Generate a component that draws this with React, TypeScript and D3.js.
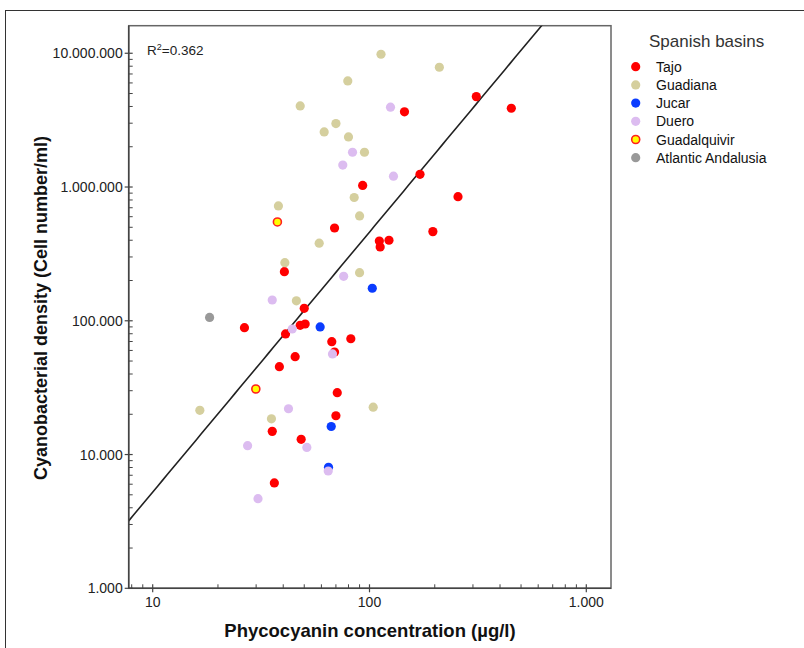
import React from "react";
import * as d3 from "d3";

const basins = ["Tajo", "Guadiana", "Jucar", "Duero", "Guadalquivir", "Atlantic Andalusia"];
const basinFill = ["#ff0000", "#d5cf9e", "#0a3cff", "#dcbcf0", "#ffff00", "#999999"];
const basinStroke = ["none", "none", "none", "none", "#ff2020", "none"];

// [phycocyanin µg/l, cells/ml]
const tajo: [number, number][] = [
  [311, 4740000], [451, 3880000], [145, 3650000], [171, 1245000], [93, 1027000],
  [256, 847000], [69, 494000], [196, 464000], [111, 395000], [123, 400000],
  [112, 356000], [40.5, 233000], [50, 124000], [26.5, 88800], [47.9, 92500],
  [50.5, 94600], [41, 79700], [67, 69800], [82, 73400], [69, 58400],
  [45.4, 53900], [38.4, 45400], [71, 29000], [70, 19500], [35.6, 14900],
  [48.4, 13000], [36.4, 6130],
];
const guadiana: [number, number][] = [
  [113, 9830000], [210, 7860000], [79.4, 6210000], [47.9, 4040000], [70, 2980000],
  [61.8, 2580000], [80, 2370000], [94.8, 1820000], [85, 835000], [38, 722000],
  [90, 608000], [58.6, 380000], [40.7, 272000], [90, 229000], [46, 141000],
  [16.5, 21400], [104, 22600], [35.3, 18500],
];
const jucar: [number, number][] = [
  [103, 175000], [59.2, 89900], [66.6, 16200], [64.7, 8030],
];
const duero: [number, number][] = [
  [125, 3950000], [83.5, 1820000], [75.3, 1460000], [129, 1205000], [76, 215000],
  [35.6, 143000], [44, 86800], [67.5, 56500], [42.3, 22000], [27.4, 11650],
  [51.4, 11300], [64.5, 7530], [30.6, 4680],
];
const guadalquivir: [number, number][] = [[37.6, 548000], [29.9, 30900]];
const atlantic: [number, number][] = [[18.3, 106000]];
const seriesData = [tajo, guadiana, jucar, duero, guadalquivir, atlantic];

const xTickValues = [10, 100, 1000];
const yTickValues = [1000, 10000, 100000, 1000000, 10000000];
const regIntercept = 59.6;
const regSlope = 1.944;
const r2Label = "0.362";

const L = 128.7, R = 611, T = 25.7, B = 588.3;

const fmt = (v: number) => d3.format(",")(v).replace(/,/g, ".");

export default function App() {
  const x = d3.scaleLog().domain([7.75, 1300]).range([L, R]);
  const y = d3.scaleLog().domain([1000, Math.pow(10, 7.206)]).range([B, T]);

  const xMinor: number[] = [];
  for (let d = 1; d <= 1000; d *= 10)
    for (let k = 2; k <= 9; k++) {
      const v = d * k;
      if (v > 7.75 && v < 1300) xMinor.push(v);
    }
  const yMinor: number[] = [];
  for (let d = 1000; d <= 1e7; d *= 10)
    for (let k = 2; k <= 9; k++) {
      const v = d * k;
      if (v < Math.pow(10, 7.206)) yMinor.push(v);
    }

  const regX = d3.range(0, 101).map((i) => 7.75 * Math.pow(1300 / 7.75, i / 100));
  const line = d3
    .line<number>()
    .x((v) => x(v))
    .y((v) => y(regIntercept * Math.pow(v, regSlope)));

  const font = "'Liberation Sans', Arial, sans-serif";

  return (
    <svg
      width={804}
      height={648}
      style={{ position: "absolute", left: 0, top: 0, background: "#fff" }}
      fontFamily={font}
    >
      <defs>
        <clipPath id="plotclip">
          <rect x={L} y={T} width={R - L} height={B - T} />
        </clipPath>
      </defs>
      <rect x={5.5} y={10.5} width={830} height={700} fill="#fff" stroke="#333" strokeWidth={1} />

      {/* plot box */}
      <rect x={L} y={T} width={R - L} height={B - T} fill="#fff" stroke="#666" strokeWidth={1.5} />

      {/* regression line */}
      <path d={line(regX) || ""} fill="none" stroke="#222" strokeWidth={1.6} clipPath="url(#plotclip)" />

      {/* points */}
      <g clipPath="url(#plotclip)">
        {seriesData.map((arr, si) =>
          arr.map((p, i) => (
            <circle
              key={si + "-" + i}
              cx={x(p[0])}
              cy={y(p[1])}
              r={si === 4 ? 4 : 4.6}
              fill={basinFill[si]}
              stroke={basinStroke[si]}
              strokeWidth={si === 4 ? 1.6 : 0}
            />
          ))
        )}
      </g>

      {/* axes lines */}
      <line x1={L} x2={L} y1={T} y2={B} stroke="#444" strokeWidth={1.5} />
      <line x1={L} x2={R} y1={B} y2={B} stroke="#444" strokeWidth={1.5} />

      {/* y ticks */}
      {yMinor.map((v, i) => (
        <line key={"ym" + i} x1={L} x2={L + 4} y1={y(v)} y2={y(v)} stroke="#444" strokeWidth={1} />
      ))}
      {yTickValues.map((v) => (
        <g key={"yt" + v}>
          <line x1={L - 4} x2={L + 4} y1={y(v)} y2={y(v)} stroke="#444" strokeWidth={1.2} />
          <text x={L - 6} y={y(v)} dy="0.36em" textAnchor="end" fontSize={14} fill="#222">
            {fmt(v)}
          </text>
        </g>
      ))}

      {/* x ticks */}
      {xMinor.map((v, i) => (
        <line key={"xm" + i} x1={x(v)} x2={x(v)} y1={B} y2={B - 4} stroke="#444" strokeWidth={1} />
      ))}
      {xTickValues.map((v) => (
        <g key={"xt" + v}>
          <line x1={x(v)} x2={x(v)} y1={B - 4} y2={B + 4} stroke="#444" strokeWidth={1.2} />
          <text x={x(v)} y={B + 19} textAnchor="middle" fontSize={14} fill="#222">
            {fmt(v)}
          </text>
        </g>
      ))}

      {/* R2 label */}
      <text x={147} y={55} fontSize={13.5} fill="#222">
        R<tspan dy={-5} fontSize={9}>2</tspan>
        <tspan dy={5}>={r2Label}</tspan>
      </text>

      {/* axis titles */}
      <text x={370} y={637} textAnchor="middle" fontSize={18.5} fontWeight="bold" fill="#111">
        Phycocyanin concentration (µg/l)
      </text>
      <text
        transform={`translate(47,308) rotate(-90)`}
        textAnchor="middle"
        fontSize={18}
        fontWeight="bold"
        fill="#111"
      >
        Cyanobacterial density (Cell number/ml)
      </text>

      {/* legend */}
      <text x={649} y={47} fontSize={17} fill="#333">
        Spanish basins
      </text>
      {basins.map((b, i) => (
        <g key={b}>
          <circle
            cx={635.7}
            cy={66.7 + i * 18.2}
            r={i === 4 ? 4 : 4.6}
            fill={basinFill[i]}
            stroke={basinStroke[i]}
            strokeWidth={i === 4 ? 1.6 : 0}
          />
          <text x={656} y={66.7 + i * 18.2} dy="0.36em" fontSize={14} fill="#111">
            {b}
          </text>
        </g>
      ))}
    </svg>
  );
}
